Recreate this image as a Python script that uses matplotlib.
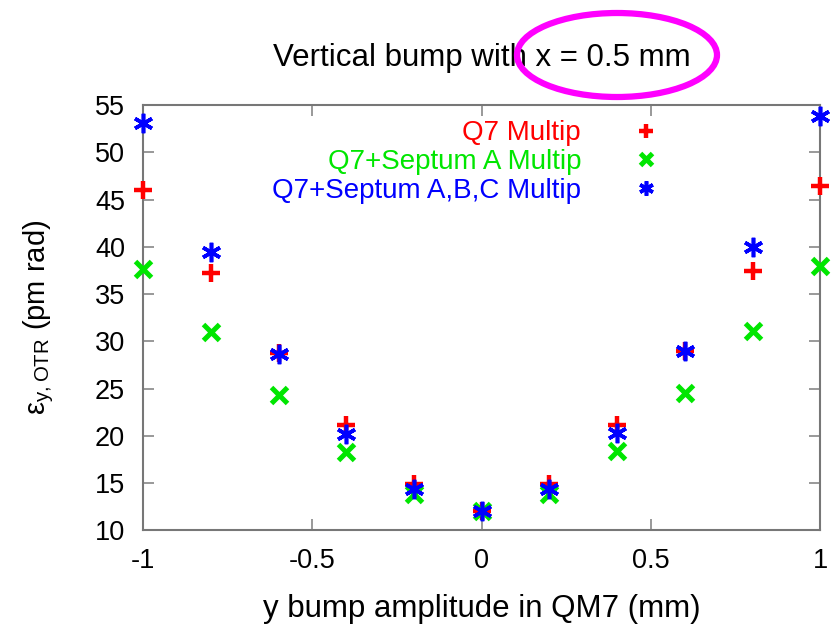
import matplotlib
matplotlib.use("Agg")
import matplotlib.pyplot as plt
from matplotlib.patches import Ellipse

plt.rcParams["font.family"] = ["Liberation Sans", "DejaVu Sans"]
plt.rcParams["mathtext.fontset"] = "custom"
plt.rcParams["mathtext.rm"] = "Liberation Sans"

# bump amplitude (mm) and vertical emittance at the OTR (pm rad)
amplitude = [-1.0, -0.8, -0.6, -0.4, -0.2, 0.0, 0.2, 0.4, 0.6, 0.8, 1.0]
eps_q7 = [46.0, 37.2, 28.8, 21.1, 14.9, 12.0, 14.9, 21.1, 29.0, 37.4, 46.4]
eps_q7_septa = [37.7, 31.0, 24.3, 18.3, 13.8, 12.0, 13.8, 18.4, 24.5, 31.1, 38.0]
eps_q7_abc = [53.1, 39.5, 28.6, 20.2, 14.4, 12.0, 14.4, 20.3, 29.0, 40.0, 53.8]

labels = ["Q7 Multip", "Q7+Septum A Multip", "Q7+Septum A,B,C Multip"]
xticks = [-1, -0.5, 0, 0.5, 1]
xticklabels = ["-1", "-0.5", "0", "0.5", "1"]
yticks = [10, 15, 20, 25, 30, 35, 40, 45, 50, 55]

fig = plt.figure(figsize=(8.32, 6.29), dpi=100)
ax = fig.add_axes([0.172, 0.157, 0.814, 0.676])

red, green, blue = "#ff0000", "#00e600", "#0000ff"
ax.plot(amplitude, eps_q7, ls="none", marker="+", ms=13, mew=3.2,
        color=red, label=labels[0], clip_on=False, zorder=3)
ax.plot(amplitude, eps_q7_septa, ls="none", marker="x", ms=11, mew=3.6,
        color=green, label=labels[1], clip_on=False, zorder=4)
ax.plot(amplitude, eps_q7_abc, ls="none", marker=(6, 2, 0), ms=14, mew=2.6,
        color=blue, label=labels[2], clip_on=False, zorder=5)

ax.set_xlim(-1, 1)
ax.set_ylim(10, 55)
ax.set_xticks(xticks)
ax.set_xticklabels(xticklabels)
ax.set_yticks(yticks)
ax.tick_params(direction="in", length=8, width=1.2, color="#888888",
               top=True, right=True, labelsize=19.5, pad=13)
for spine in ax.spines.values():
    spine.set_color("#777777")
    spine.set_linewidth(1.5)

ax.set_xlabel("y bump amplitude in QM7 (mm)", fontsize=22.5, labelpad=14)
ax.set_ylabel(r"ε$_{\mathrm{y,OTR}}$ (pm rad)", fontsize=21, labelpad=28)
ax.set_title("Vertical bump with x = 0.5 mm", fontsize=22.5, pad=28)

leg = ax.legend(loc="upper right", bbox_to_anchor=(0.78, 0.99), frameon=False,
                markerfirst=False, handlelength=1.0, handletextpad=1.85,
                labelspacing=0.1, fontsize=20, borderaxespad=0.0,
                markerscale=0.75)
for text, c in zip(leg.get_texts(), [red, green, blue]):
    text.set_color(c)

# highlight ring drawn around the x offset in the title
fig.patches.append(Ellipse((617 / 832, 1 - 55 / 629), 200 / 832, 84 / 629,
                           transform=fig.transFigure, fill=False,
                           edgecolor="#ff00ff", linewidth=4.5, zorder=10))

fig.savefig("out.png", dpi=100)
